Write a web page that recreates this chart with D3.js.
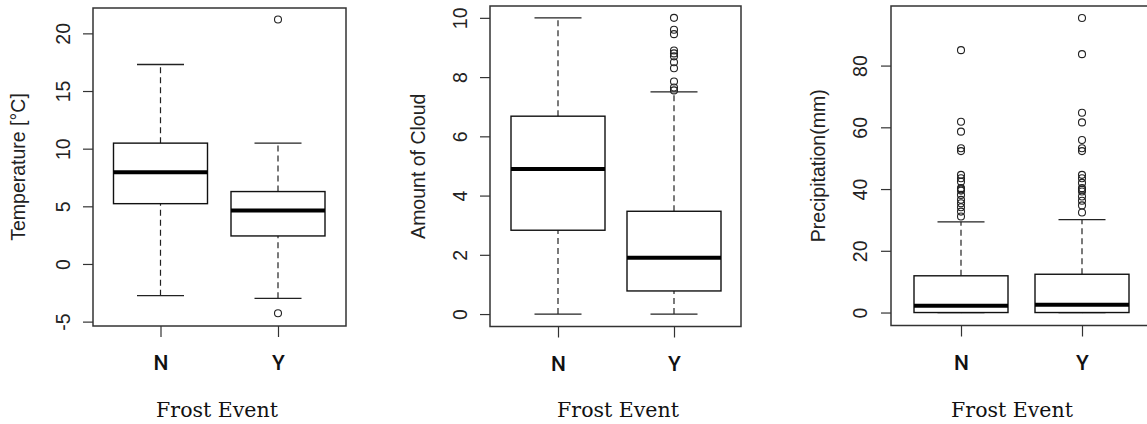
<!DOCTYPE html>
<html>
<head>
<meta charset="utf-8">
<script src="https://cdn.jsdelivr.net/npm/d3@7"></script>
<style>
  body { margin: 0; background: #fff; }
  svg { display: block; }
</style>
</head>
<body>
<div id="chart"></div>
<script>
// groups on the x axis
var groups = ["N", "Y"];

// box stats per group: [lower whisker, Q1, median, Q3, upper whisker]
var tempStats = [[-2.75, 5.23, 7.96, 10.48, 17.3], [-2.98, 2.43, 4.63, 6.28, 10.48]];
var tempOutliers = [[], [21.2, -4.28]];
var tempTicks = [-5, 0, 5, 10, 15, 20];

var cloudStats = [[0, 2.83, 4.9, 6.68, 10], [0, 0.78, 1.9, 3.47, 7.5]];
var cloudOutliers = [[], [10, 9.6, 9.45, 8.9, 8.8, 8.7, 8.5, 8.3, 7.85, 7.65, 7.55]];
var cloudTicks = [0, 2, 4, 6, 8, 10];

var precStats = [[0, 0, 2.2, 11.9, 29.4], [0, 0, 2.5, 12.4, 30.1]];
var precOutliers = [
  [85, 61.8, 58.6, 53.2, 52.3, 44.6, 43.5, 42.4, 40.3, 39.9, 39.5, 38.1, 36.5, 35.4, 34.1, 32.7, 31.1],
  [95.4, 83.7, 64.7, 61.6, 55.9, 53.2, 52.3, 44.6, 43.5, 42, 40.3, 39.8, 39.2, 37.6, 36.2, 34.7, 32.4]
];
var precTicks = [0, 20, 40, 60, 80];

var width = 1147, height = 424;

var svg = d3.select("#chart").append("svg")
  .attr("width", width)
  .attr("height", height);

// layout of each panel (pixel frame + value range of frame)
var panels = [
  { stats: tempStats, outliers: tempOutliers, ticks: tempTicks, label: "Temperature [\u00B0C]",
    left: 93, right: 346, top: 8, bottom: 326, lo: -5.38, hi: 22.2,
    centers: [160.5, 278], tickX: 63, ylabX: 18, xlabX: 217 },
  { stats: cloudStats, outliers: cloudOutliers, ticks: cloudTicks, label: "Amount of Cloud",
    left: 490, right: 741, top: 6, bottom: 326.5, lo: -0.42, hi: 10.4,
    centers: [558, 674], tickX: 460, ylabX: 418, xlabX: 618 },
  { stats: precStats, outliers: precOutliers, ticks: precTicks, label: "Precipitation(mm)",
    left: 891, right: 1152, top: 6, bottom: 325.5, lo: -4.2, hi: 99.3,
    centers: [961, 1082], tickX: 860, ylabX: 818, xlabX: 1012 }
];

var boxW = 94, capW = 47;

panels.forEach(function (p) {
  var g = svg.append("g");

  var y = d3.scaleLinear().domain([p.lo, p.hi]).range([p.bottom, p.top]);
  var x = d3.scaleOrdinal().domain(groups).range(p.centers);

  // y axis (plain hyphen minus like the original)
  var yAxis = g.append("g")
    .attr("transform", "translate(" + p.left + ",0)")
    .call(d3.axisLeft(y).tickValues(p.ticks).tickSize(10).tickSizeOuter(0)
      .tickFormat(function (d) { return String(d); }));
  yAxis.select(".domain").remove();
  yAxis.selectAll("line").attr("stroke", "#333").attr("stroke-width", 1.2);
  yAxis.selectAll("text")
    .attr("transform", "rotate(-90)")
    .attr("x", 0)
    .attr("y", -(p.left - p.tickX))
    .attr("dy", "0.36em")
    .style("text-anchor", "middle")
    .style("font-family", "'Liberation Sans', Arial, sans-serif")
    .style("font-size", "19.5px")
    .attr("fill", "#222");

  // x axis
  var xAxis = g.append("g")
    .attr("transform", "translate(0," + p.bottom + ")")
    .call(d3.axisBottom(x).tickSize(11).tickSizeOuter(0));
  xAxis.select(".domain").remove();
  xAxis.selectAll("line").attr("stroke", "#333").attr("stroke-width", 1.2);
  xAxis.selectAll("text")
    .attr("y", 0)
    .attr("dy", 44)
    .style("font-family", "Roboto, 'DejaVu Sans', sans-serif")
    .style("font-weight", "500")
    .style("font-size", "21px")
    .attr("fill", "#111");

  // frame
  g.append("rect")
    .attr("x", p.left).attr("y", p.top)
    .attr("width", p.right - p.left).attr("height", p.bottom - p.top)
    .attr("fill", "none").attr("stroke", "#333").attr("stroke-width", 1.5);

  var boxes = g.selectAll(".box")
    .data(p.stats.map(function (s, i) { return { key: groups[i], s: s, out: p.outliers[i] }; }))
    .enter().append("g").attr("class", "box");

  // dashed whiskers
  boxes.append("line")
    .attr("x1", function (d) { return x(d.key); }).attr("x2", function (d) { return x(d.key); })
    .attr("y1", function (d) { return y(d.s[0]); }).attr("y2", function (d) { return y(d.s[1]); })
    .attr("stroke", "#222").attr("stroke-width", 1.2).attr("stroke-dasharray", "6,4");
  boxes.append("line")
    .attr("x1", function (d) { return x(d.key); }).attr("x2", function (d) { return x(d.key); })
    .attr("y1", function (d) { return y(d.s[3]); }).attr("y2", function (d) { return y(d.s[4]); })
    .attr("stroke", "#222").attr("stroke-width", 1.2).attr("stroke-dasharray", "6,4");

  // caps
  [0, 4].forEach(function (k) {
    boxes.append("line")
      .attr("x1", function (d) { return x(d.key) - capW / 2; })
      .attr("x2", function (d) { return x(d.key) + capW / 2; })
      .attr("y1", function (d) { return y(d.s[k]); })
      .attr("y2", function (d) { return y(d.s[k]); })
      .attr("stroke", "#222").attr("stroke-width", 1.3);
  });

  // box
  boxes.append("rect")
    .attr("x", function (d) { return x(d.key) - boxW / 2; })
    .attr("y", function (d) { return y(d.s[3]); })
    .attr("width", boxW)
    .attr("height", function (d) { return y(d.s[1]) - y(d.s[3]); })
    .attr("fill", "#fff").attr("stroke", "#111").attr("stroke-width", 1.4);

  // median
  boxes.append("line")
    .attr("x1", function (d) { return x(d.key) - boxW / 2; })
    .attr("x2", function (d) { return x(d.key) + boxW / 2; })
    .attr("y1", function (d) { return y(d.s[2]); })
    .attr("y2", function (d) { return y(d.s[2]); })
    .attr("stroke", "#000").attr("stroke-width", 4);

  // outliers
  boxes.each(function (d) {
    d3.select(this).selectAll("circle")
      .data(d.out).enter().append("circle")
      .attr("cx", x(d.key))
      .attr("cy", function (v) { return y(v); })
      .attr("r", 3.5)
      .attr("fill", "none").attr("stroke", "#222").attr("stroke-width", 1.1);
  });

  // y label
  g.append("text")
    .attr("transform", "translate(" + p.ylabX + "," + ((p.top + p.bottom) / 2) + ") rotate(-90)")
    .attr("dy", "0.36em")
    .style("text-anchor", "middle")
    .style("font-family", "'Liberation Sans', Arial, sans-serif")
    .style("font-size", "19.5px")
    .attr("fill", "#222")
    .text(p.label);

  // x label
  g.append("text")
    .attr("x", p.xlabX).attr("y", 417)
    .style("text-anchor", "middle")
    .style("font-family", "'DejaVu Serif', serif")
    .style("font-size", "20.5px")
    .attr("fill", "#111")
    .text("Frost Event");
});
</script>
</body>
</html>
